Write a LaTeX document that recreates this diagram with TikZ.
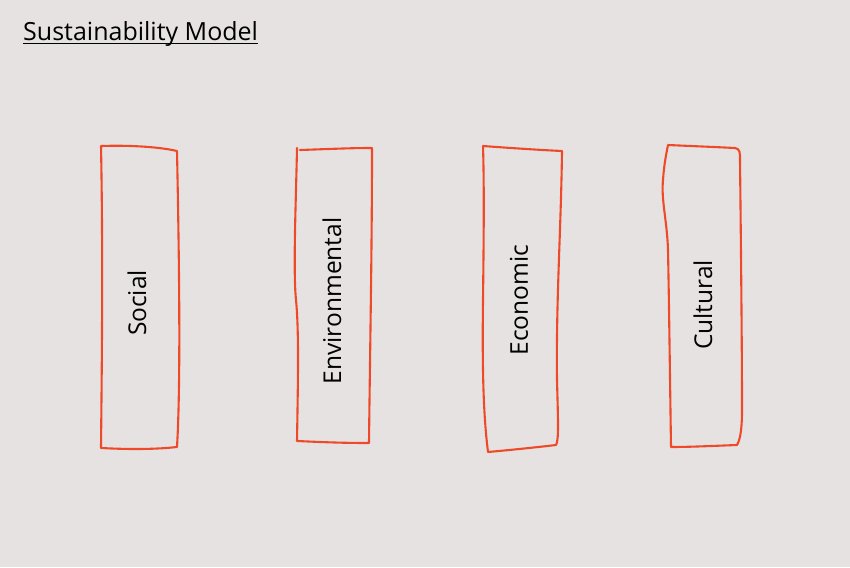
\documentclass[tikz,border=0pt]{standalone}
\usepackage{fontspec}
\setmainfont{Open Sans}
\usepackage{tikz}
\usetikzlibrary{positioning}
\definecolor{paper}{HTML}{E6E2E1}
\definecolor{pen}{HTML}{EE4A2A}
\tikzset{
	sketch/.style={draw=pen,line width=2.1,line join=round,line cap=round},
	pillar/.style={rotate=90,font=\fontsize{24.5}{28}\selectfont,inner sep=0}
}

\begin{document}
\begin{tikzpicture}[x=1pt,y=-1pt]
	\fill[paper] (0,0) rectangle (850,567);
	\useasboundingbox (0,0) rectangle (850,567);

	\coordinate(0) at (137,303);
	\coordinate(1) at (332,301);
	\coordinate(2) at (519,300);
	\coordinate(3) at (703,305);

	% title
	\node[anchor=base west,inner sep=0,font=\fontsize{25}{29}\selectfont] (title) at (23,41) {Sustainability Model};
	\draw[line width=1.2] ([yshift=-2.5]title.base west) -- ([yshift=-2.5]title.base east);

	% hand drawn boxes
	\draw[sketch] (101,146) .. controls (130,145) and (160,147) .. (177,151) .. controls (179,250) and (181,380) .. (177,447) .. controls (150,450) and (120,449) .. (101,448) .. controls (102,350) and (103,250) .. (101,146);
	\draw[sketch] (300,150) .. controls (330,149) and (350,148) .. (372,148) .. controls (372,250) and (370,350) .. (369,443) .. controls (340,443) and (320,442) .. (297,441) .. controls (298,380) and (299,330) .. (296,300) .. controls (293,270) and (296,200) .. (297,148);
	\draw[sketch] (483,146) .. controls (510,148) and (540,150) .. (562,151) .. controls (561,230) and (556,300) .. (557,380) .. controls (558,420) and (559,440) .. (556,445) .. controls (530,448) and (510,450) .. (488,452) .. controls (484,420) and (482,380) .. (483,300) .. controls (484,220) and (484,180) .. (483,146);
	\draw[sketch] (668,145) .. controls (690,146) and (715,147) .. (735,148) .. controls (740,149) and (740,152) .. (740,160) .. controls (741,250) and (742,350) .. (742,410) .. controls (742,430) and (740,440) .. (737,445) .. controls (710,446) and (690,447) .. (671,447) .. controls (670,380) and (669,300) .. (668,250) .. controls (667,220) and (661,200) .. (663,180) .. controls (664,165) and (666,155) .. (668,145);

	\node[pillar] (social) at (0) {Social};
	\node[pillar] (environmental) at (1) {Environmental};
	\node[pillar] (economic) at (2) {Economic};
	\node[pillar] (cultural) at (3) {Cultural};
\end{tikzpicture}
\end{document}
